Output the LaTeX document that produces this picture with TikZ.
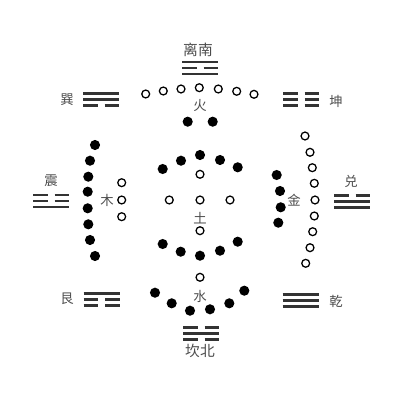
\documentclass[tikz,border=0pt]{standalone}
\usepackage{fontspec}
\newfontfamily\cjk{Noto Sans CJK SC}
\tikzset{
  yin/.style={draw=black,fill=white,line width=0.9pt},
  yang/.style={fill=black},
  yao/.style={line width=1.6pt,black!80},
  gualabel/.style={font=\cjk\fontsize{9.5}{10}\selectfont,text=black!70,inner sep=0pt},
  fanglabel/.style={font=\cjk\fontsize{10.5}{11}\selectfont,text=black!70,inner sep=0pt}
}
% #1 centre, #2 lines from top (1 solid, 0 broken)
\newcommand\gua[2]{%
  \begin{scope}[shift={#1}]
  \foreach \t [count=\i] in {#2} {
    \ifnum\t=1
      \draw[yao] (-18,{(\i-2)*6}) -- (18,{(\i-2)*6});
    \else
      \draw[yao] (-18,{(\i-2)*6}) -- (-3.5,{(\i-2)*6}) (3.5,{(\i-2)*6}) -- (18,{(\i-2)*6});
    \fi}
  \end{scope}}
\begin{document}
\begin{tikzpicture}[x=0.025cm,y=-0.025cm]
\useasboundingbox (0,0) rectangle (400,400);

% trigrams
\gua{(200,68)}{1,0,1}
\gua{(101,99.5)}{1,1,0}
\gua{(301,99.5)}{0,0,0}
\gua{(51,201)}{0,0,1}
\gua{(352,201.5)}{0,1,1}
\gua{(101.5,299.5)}{1,0,0}
\gua{(300.5,300.5)}{1,1,1}
\gua{(201,333.5)}{0,1,0}

% names
\node[fanglabel] (li) at (198,50) {离南};
\node[fanglabel] (kan) at (200,351) {坎北};
\node[gualabel] (xun) at (67,100) {巽};
\node[gualabel] (kun) at (336,101) {坤};
\node[gualabel] (zhen) at (51,181) {震};
\node[gualabel] (dui) at (351,181) {兑};
\node[gualabel] (gen) at (67,299) {艮};
\node[gualabel] (qian) at (336,301) {乾};
\node[gualabel] (huo) at (200,106) {火};
\node[gualabel] (shui) at (200,296) {水};
\node[gualabel] (mu) at (107,200) {木};
\node[gualabel] (jin) at (294,200) {金};
\node[gualabel] (tu) at (200,218) {土};

% fire
\foreach \p in {(145.7,94),(163.3,91),(181,89),(199.3,87.7),(218.3,89),(236.7,91.3),(254,94.3)}
  \draw[yin] \p circle[radius=2.8pt];
\foreach \p in {(187.7,121.7),(212.7,121.7)}
  \fill[yang] \p circle[radius=3.6pt];

% wood
\foreach \p in {(95,145),(90,160.7),(88.3,176.7),(87.7,191.7),(87.7,208.3),(88.3,224.3),(90,240),(95,256)}
  \fill[yang] \p circle[radius=3.6pt];
\foreach \y in {182.7,200,216.7}
  \draw[yin] (121.7,\y) circle[radius=2.8pt];

% metal
\foreach \p in {(305,136),(310,152.3),(312.3,167.7),(314.3,183.3),(315,200),(314.3,216),(312.7,231.7),(310,247.7),(305.7,263.3)}
  \draw[yin] \p circle[radius=2.8pt];
\foreach \p in {(276.7,175),(280,191),(280.7,207.3),(278.3,222.7)}
  \fill[yang] \p circle[radius=3.6pt];

% earth
\foreach \p in {(162.7,169),(181,160.7),(200,155),(220,160),(237.7,167.3),
                (162.7,244),(180.7,251.7),(200,255.7),(220,250.7),(237.7,241.7)}
  \fill[yang] \p circle[radius=3.6pt];
\foreach \p in {(200,174.3),(169.3,200),(200,200),(230,200),(200,230.7)}
  \draw[yin] \p circle[radius=2.8pt];

% water
\draw[yin] (200,277.3) circle[radius=2.8pt];
\foreach \p in {(155,292.7),(171.7,303.3),(190,310.7),(210,309.3),(229.3,303.3),(244.3,290.7)}
  \fill[yang] \p circle[radius=3.6pt];

\end{tikzpicture}
\end{document}
